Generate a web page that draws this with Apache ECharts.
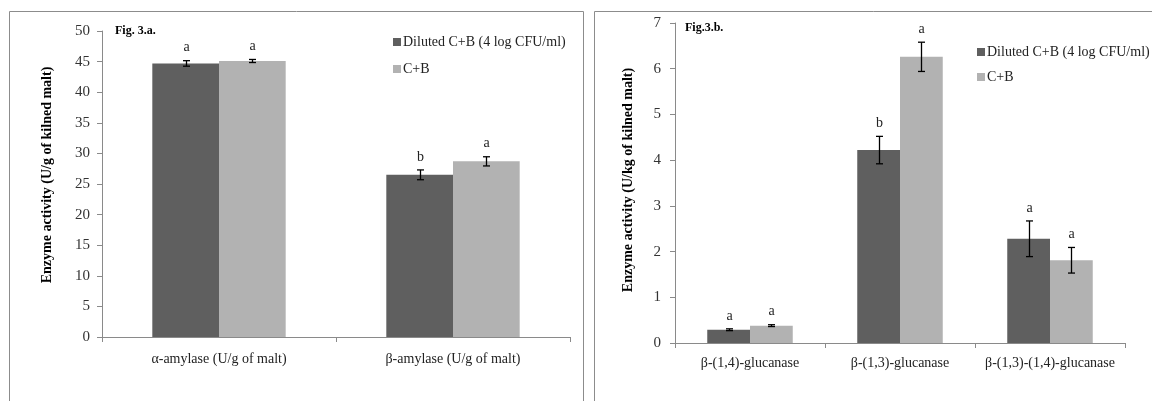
<!DOCTYPE html>
<html>
<head>
<meta charset="utf-8">
<script src="https://cdn.jsdelivr.net/npm/echarts@6/dist/echarts.min.js"></script>
<style>
  html, body { margin: 0; padding: 0; background: #fff; }
  #box1 { width: 1152px; height: 401px; }
</style>
</head>
<body>
<div id="box1"></div>
<script>
var seriesNames = ['Diluted C+B (4 log CFU/ml)', 'C+B'];

// Fig 3.a
var categoriesA = ['α-amylase (U/g of malt)', 'β-amylase (U/g of malt)'];
var dilutedA = [44.7, 26.5];
var dilutedAErr = [0.45, 0.8];
var dilutedALetters = ['a', 'b'];
var cbA = [45.1, 28.7];
var cbAErr = [0.25, 0.75];
var cbALetters = ['a', 'a'];
var ticksA = { min: 0, max: 50, interval: 5 };

// Fig 3.b
var categoriesB = ['β-(1,4)-glucanase', 'β-(1,3)-glucanase', 'β-(1,3)-(1,4)-glucanase'];
var dilutedB = [0.29, 4.22, 2.28];
var dilutedBErr = [0.02, 0.30, 0.39];
var dilutedBLetters = ['a', 'b', 'a'];
var cbB = [0.38, 6.26, 1.81];
var cbBErr = [0.02, 0.32, 0.28];
var cbBLetters = ['a', 'a', 'a'];
var ticksB = { min: 0, max: 7, interval: 1 };

var darkColor = '#5f5f5f';
var lightColor = '#b2b2b2';
var axisColor = '#8a8a8a';
var font = 'Liberation Serif';
var catGap = 0.43;

window.onload = function () {
    var myChart = echarts.init(document.getElementById('box1'));

    // error bar + significance letter, side = -1 (left bar) / +1 (right bar)
    function errorRender(side, letters) {
        return function (params, api) {
            var i = api.value(0), v = api.value(1), e = api.value(2);
            var catW = api.size([1, 0])[0];
            var dx = side * catW * (1 - catGap) / 4;
            var top = api.coord([i, v + e]);
            var bot = api.coord([i, v - e]);
            var x = Math.round(top[0] + dx) + 0.5;
            var cap = 3.5;
            var st = { stroke: '#000', lineWidth: 1.3 };
            return {
                type: 'group',
                children: [
                    { type: 'line', shape: { x1: x, y1: top[1], x2: x, y2: bot[1] }, style: st },
                    { type: 'line', shape: { x1: x - cap, y1: top[1], x2: x + cap, y2: top[1] }, style: st },
                    { type: 'line', shape: { x1: x - cap, y1: bot[1], x2: x + cap, y2: bot[1] }, style: st },
                    { type: 'text', x: x, y: top[1] - 13, style: {
                        text: letters[params.dataIndex], fill: '#222', font: '14px "' + font + '"',
                        align: 'center', verticalAlign: 'middle'
                    } }
                ]
            };
        };
    }

    function errData(vals, errs) {
        return vals.map(function (v, i) { return [i, v, errs[i]]; });
    }

    function xAxisFor(cats, gridIndex, margin) {
        return {
            type: 'category', gridIndex: gridIndex, data: cats,
            axisLine: { lineStyle: { color: axisColor, width: 1 } },
            axisTick: { show: true, length: 5, lineStyle: { color: axisColor } },
            axisLabel: { color: '#222', fontFamily: font, fontSize: 14, margin: margin,
                         interval: 0, hideOverlap: false }
        };
    }

    function yAxisFor(t, gridIndex, margin) {
        return {
            type: 'value', gridIndex: gridIndex, min: t.min, max: t.max, interval: t.interval,
            splitLine: { show: false },
            axisLine: { show: true, lineStyle: { color: axisColor, width: 1 } },
            axisTick: { show: true, length: 5, lineStyle: { color: axisColor } },
            axisLabel: { color: '#333', fontFamily: font, fontSize: 15, margin: margin }
        };
    }

    function bar(name, data, color, idx) {
        return {
            name: name, type: 'bar', data: data, xAxisIndex: idx, yAxisIndex: idx,
            barGap: '0%', barCategoryGap: (catGap * 100) + '%',
            itemStyle: { color: color }, emphasis: { disabled: true }
        };
    }

    function errSeries(vals, errs, letters, side, idx) {
        return {
            type: 'custom', name: 'err', xAxisIndex: idx, yAxisIndex: idx, silent: true, z: 5,
            data: errData(vals, errs), encode: { x: 0, y: 1 },
            renderItem: errorRender(side, letters)
        };
    }

    function legendAt(left, top, gap) {
        return {
            data: seriesNames, orient: 'vertical', left: left, top: top, itemGap: gap,
            icon: 'rect', itemWidth: 8, itemHeight: 8, selectedMode: false,
            textStyle: { color: '#222', fontFamily: font, fontSize: 14, padding: [0, 0, 0, -3] }
        };
    }

    var option = {
        animation: false,
        grid: [
            { left: 102, top: 31, width: 468, height: 306 },
            { left: 675, top: 23, width: 450, height: 320 }
        ],
        xAxis: [xAxisFor(categoriesA, 0, 15), xAxisFor(categoriesB, 1, 13)],
        yAxis: [yAxisFor(ticksA, 0, 12), yAxisFor(ticksB, 1, 14)],
        legend: [legendAt(388, 30, 13), legendAt(972, 40, 11)],
        graphic: [
            { type: 'rect', shape: { x: 9.5, y: 11.5, width: 574, height: 460 },
              style: { fill: null, stroke: '#8c8c8c', lineWidth: 1 }, silent: true },
            { type: 'rect', shape: { x: 594.5, y: 11.5, width: 620, height: 460 },
              style: { fill: null, stroke: '#8c8c8c', lineWidth: 1 }, silent: true },
            { type: 'text', x: 115, y: 31, style: { text: 'Fig. 3.a.', fill: '#000',
              font: 'bold 12px "' + font + '"', verticalAlign: 'middle' } },
            { type: 'text', x: 685, y: 28, style: { text: 'Fig.3.b.', fill: '#000',
              font: 'bold 12px "' + font + '"', verticalAlign: 'middle' } },
            { type: 'text', x: 47, y: 175, rotation: Math.PI / 2, style: {
              text: 'Enzyme activity (U/g of kilned malt)', fill: '#000',
              font: 'bold 14px "' + font + '"', align: 'center', verticalAlign: 'middle' } },
            { type: 'text', x: 628, y: 180, rotation: Math.PI / 2, style: {
              text: 'Enzyme activity (U/kg of kilned malt)', fill: '#000',
              font: 'bold 14px "' + font + '"', align: 'center', verticalAlign: 'middle' } }
        ],
        series: [
            bar(seriesNames[0], dilutedA, darkColor, 0),
            bar(seriesNames[1], cbA, lightColor, 0),
            bar(seriesNames[0], dilutedB, darkColor, 1),
            bar(seriesNames[1], cbB, lightColor, 1),
            errSeries(dilutedA, dilutedAErr, dilutedALetters, -1, 0),
            errSeries(cbA, cbAErr, cbALetters, 1, 0),
            errSeries(dilutedB, dilutedBErr, dilutedBLetters, -1, 1),
            errSeries(cbB, cbBErr, cbBLetters, 1, 1)
        ]
    };
    myChart.setOption(option);
    window.addEventListener('resize', function () {
        myChart.resize();
    });
};
</script>
</body>
</html>
